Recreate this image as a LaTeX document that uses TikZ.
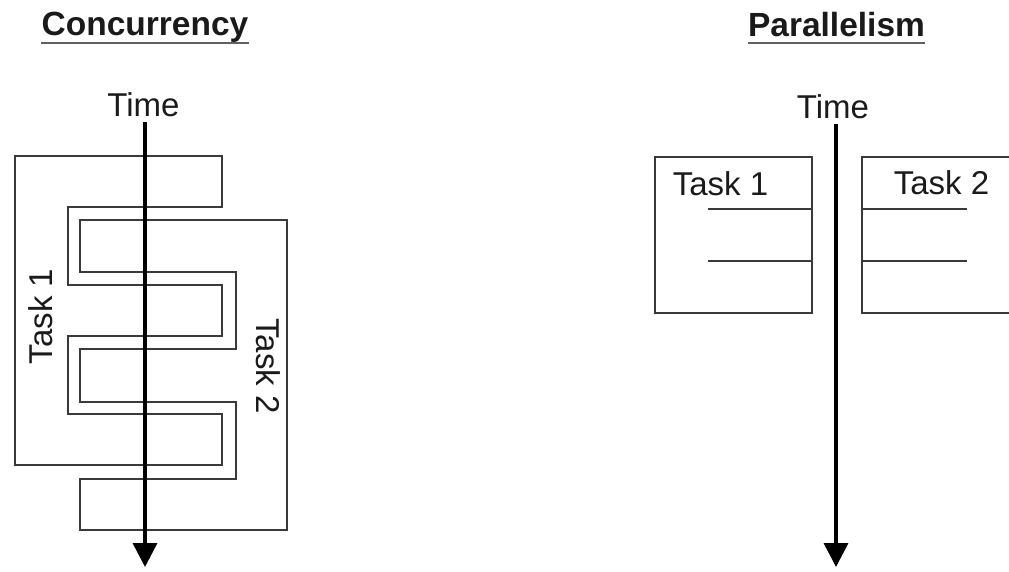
\documentclass[tikz,border=0pt]{standalone}
\usepackage{fontspec}
\setmainfont{Liberation Sans}
\usetikzlibrary{arrows.meta}
\definecolor{ink}{HTML}{1A1A1A}
\definecolor{edge}{HTML}{3A3A3A}
\begin{document}
\begin{tikzpicture}[x=1pt,y=-1pt,
  txt/.style={font=\fontsize{33}{36}\selectfont, text=ink, inner sep=0pt, anchor=base},
  heading/.style={font=\fontsize{33.5}{36}\selectfont\bfseries, text=ink, inner sep=0pt, anchor=base},
  rule/.style={draw=edge!80, line width=2pt},
  outline/.style={draw=edge, line width=2pt, line join=miter},
  timeline/.style={draw=black, line width=3.5pt, -{Triangle[width=24pt,length=24pt]}}]
\useasboundingbox (0,0) rectangle (1009,571);

% ---------- Concurrency ----------
\node[heading] (conc) at (145,35) {Concurrency};
\draw[rule] ([yshift=-8pt]conc.base west) -- ([yshift=-8pt]conc.base east);
\node[txt] (time1) at (143.5,116.7) {Time};

% interleaved task outlines
\draw[outline] (15,156) -- (222,156) -- (222,207) -- (68,207) -- (68,285)
  -- (222,285) -- (222,336) -- (68,336) -- (68,414) -- (222,414)
  -- (222,465) -- (15,465) -- cycle;
\draw[outline] (80,220) -- (287,220) -- (287,530) -- (80,530) -- (80,479)
  -- (236,479) -- (236,402) -- (80,402) -- (80,349) -- (236,349)
  -- (236,272) -- (80,272) -- cycle;
\node[txt, rotate=90] (task1a) at (52,316.5) {Task 1};
\node[txt, rotate=-90] (task2a) at (256,366) {Task 2};

\coordinate (t1start) at (145,122);
\coordinate (t1end) at (145,567);
\draw[timeline] (t1start) -- (t1end);

% ---------- Parallelism ----------
\node[heading] (para) at (836.5,36) {Parallelism};
\draw[rule] ([yshift=-7pt]para.base west) -- ([yshift=-7pt]para.base east);
\node[txt] (time2) at (833,118) {Time};

\draw[outline] (655,157) rectangle (812,313);
\draw[outline] (708,209) -- (812,209);
\draw[outline] (708,261) -- (812,261);
\node[txt] (task1b) at (720.5,195) {Task 1};

\draw[outline] (1010,157) -- (862,157) -- (862,313) -- (1010,313);
\draw[outline] (862,209) -- (967,209);
\draw[outline] (862,261) -- (967,261);
\node[txt] (task2b) at (941.5,194) {Task 2};

\coordinate (t2start) at (836,124);
\coordinate (t2end) at (836,567);
\draw[timeline] (t2start) -- (t2end);
\end{tikzpicture}
\end{document}
